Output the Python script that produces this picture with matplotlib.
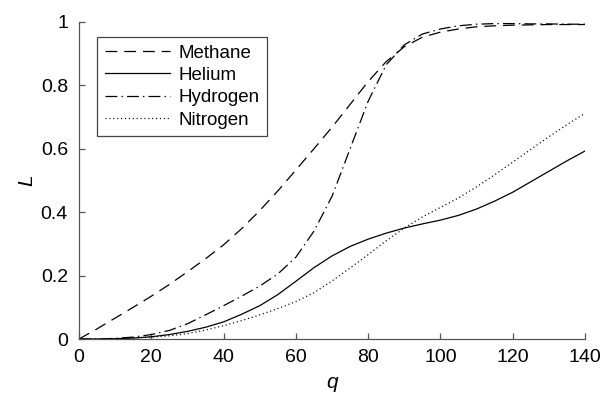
import matplotlib
matplotlib.use('Agg')
import matplotlib.pyplot as plt

plt.rcParams['font.family'] = ['Liberation Sans', 'DejaVu Sans']
plt.rcParams['lines.scale_dashes'] = False

q = [0, 5, 10, 15, 20, 25, 30, 35, 40, 45, 50, 55, 60, 65, 70,
     75, 80, 85, 90, 95, 100, 105, 110, 115, 120, 125, 130, 135, 140]

methane = [0.0, 0.032, 0.066, 0.100, 0.135, 0.172, 0.212, 0.253, 0.297, 0.348,
           0.405, 0.467, 0.533, 0.600, 0.668, 0.740, 0.812, 0.875, 0.922, 0.952,
           0.968, 0.978, 0.985, 0.988, 0.990, 0.991, 0.992, 0.992, 0.992]
helium = [0.0, 0.0, 0.001, 0.003, 0.007, 0.014, 0.024, 0.037, 0.054, 0.078,
          0.105, 0.140, 0.182, 0.225, 0.262, 0.292, 0.315, 0.334, 0.350, 0.363,
          0.375, 0.390, 0.410, 0.435, 0.463, 0.496, 0.529, 0.562, 0.593]
hydrogen = [0.0, 0.0, 0.002, 0.006, 0.014, 0.027, 0.048, 0.076, 0.105, 0.135,
            0.167, 0.205, 0.258, 0.340, 0.450, 0.600, 0.750, 0.865, 0.928, 0.962,
            0.978, 0.988, 0.993, 0.995, 0.995, 0.994, 0.994, 0.993, 0.993]
nitrogen = [0.0, 0.0, 0.001, 0.003, 0.006, 0.010, 0.017, 0.028, 0.042, 0.058,
            0.076, 0.096, 0.118, 0.146, 0.183, 0.224, 0.266, 0.310, 0.350, 0.385,
            0.415, 0.445, 0.480, 0.518, 0.558, 0.598, 0.638, 0.676, 0.712]

fig = plt.figure(figsize=(6.01, 3.96), dpi=100)
ax = fig.add_axes([79/601, 57/396, 506/601, 317/396])

lw = 0.9
ax.plot(q, methane, color='black', lw=lw, dashes=(8.5, 5), label='Methane')
ax.plot(q, helium, color='black', lw=lw, label='Helium')
ax.plot(q, hydrogen, color='black', lw=lw, dashes=(8.5, 3, 1, 3), label='Hydrogen')
ax.plot(q, nitrogen, color='black', lw=lw, dashes=(0.8, 2), label='Nitrogen')

ax.set_xlim(0, 140)
ax.set_ylim(0, 1)
ax.set_xticks([0, 20, 40, 60, 80, 100, 120, 140])
ax.set_yticks([0, 0.2, 0.4, 0.6, 0.8, 1])
ax.set_yticklabels(['0', '0.2', '0.4', '0.6', '0.8', '1'])

for s in ['top', 'right']:
    ax.spines[s].set_visible(False)
for s in ['left', 'bottom']:
    ax.spines[s].set_color('#555555')
    ax.spines[s].set_linewidth(0.9)
ax.tick_params(direction='in', length=4, width=0.9, color='#555555',
               labelsize=14, labelcolor='black')
ax.tick_params(axis='y', pad=8)
ax.tick_params(axis='x', pad=7)

ax.set_xlabel('q', fontsize=15, style='italic', labelpad=5)
ax.set_ylabel('L', fontsize=15, style='italic', labelpad=3)

leg = ax.legend(loc='upper left', bbox_to_anchor=(0.0356, 0.953), borderaxespad=0,
                fontsize=13.5, handlelength=3.5, handletextpad=0.45, labelspacing=0.28,
                fancybox=False, framealpha=1, edgecolor='#444444', borderpad=0.4)
leg.get_frame().set_linewidth(0.9)

fig.savefig('out.png', dpi=100)
